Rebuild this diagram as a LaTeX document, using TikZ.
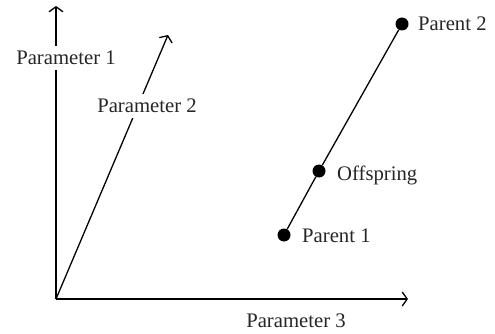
\documentclass[tikz,border=0pt]{standalone}
\usepackage{fontspec}
\setmainfont{Liberation Serif}
\usetikzlibrary{arrows.meta}
\begin{document}
\begin{tikzpicture}[x=1pt,y=-1pt,
  axis/.style={line width=1.3pt,-{Straight Barb[length=5pt,width=14pt,line width=1.3pt]}},
  lbl/.style={font=\fontsize{20.7}{24}\selectfont,text=black!85,inner sep=0pt},
  cut/.style={lbl,fill=white,inner sep=5pt,anchor=base},
  dot/.style={circle,fill=black,inner sep=0pt,minimum size=13pt},
  seg/.style={line width=1.3pt}]
\useasboundingbox (0,0) rectangle (495,334);
\coordinate (O) at (56,299);
\coordinate (Y) at (56,6);
\coordinate (Z) at (168,35);
\coordinate (X) at (408,299);
\draw[axis] (O) -- (Y);
\draw[axis] (O) -- (Z);
\draw[axis] (O) -- (X);
\node[cut] (p1) at (66,65) {Parameter 1};
\node[cut] (p2) at (147,113) {Parameter 2};
\node[lbl,anchor=base] (p3) at (296,327) {Parameter 3};
\node[dot] (A) at (284,235) {};
\node[dot] (C) at (319,171) {};
\node[dot] (B) at (402,24) {};
\draw[seg] (A) -- (C) -- (B);
\node[lbl,anchor=base west] (la) at (302,242) {Parent 1};
\node[lbl,anchor=base west] (lc) at (337,180) {Offspring};
\node[lbl,anchor=base west] (lb) at (418,31) {Parent 2};
\end{tikzpicture}
\end{document}
